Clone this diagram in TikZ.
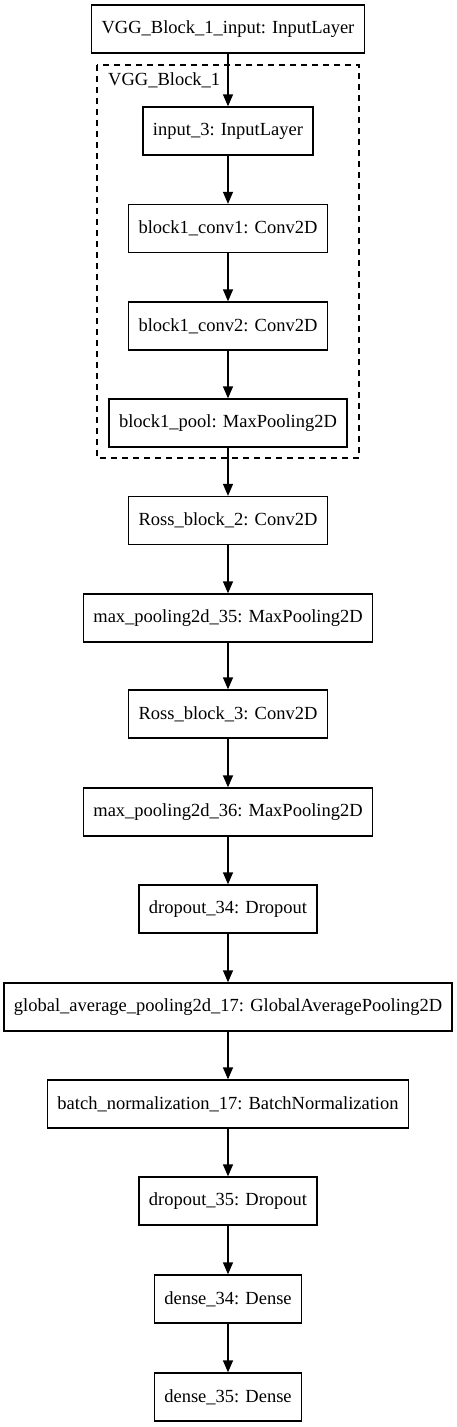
\documentclass[tikz,border=0pt]{standalone}
\usepackage{fontspec}
\setmainfont{Liberation Serif}
\usetikzlibrary{arrows.meta}

\tikzset{
  layer/.style={draw, line width=1.3pt, rectangle, minimum height=48pt, inner xsep=10pt,
    font=\fontsize{18.5}{20}\selectfont},
  edge/.style={draw, line width=1.3pt, -{Triangle[length=12pt,width=10pt]}}
}

\begin{document}
\begin{tikzpicture}[x=1pt,y=-1pt]

% Page frame
\useasboundingbox (0,0) rectangle (456,1427);

% Draw the cluster
\draw[line width=1.3pt, dash pattern=on 6pt off 5pt] (97,65) rectangle (359,458);
\node[anchor=west, inner sep=0pt, font=\fontsize{18.5}{20}\selectfont] (clusterlabel) at (108,80) {VGG\_Block\_1};

% Draw the layers
\node[layer] (vgginput) at (228,29) {VGG\_Block\_1\_input: InputLayer};
\node[layer] (input3) at (228,131) {input\_3: InputLayer};
\node[layer] (conv1) at (228,228.5) {block1\_conv1: Conv2D};
\node[layer] (conv2) at (228,326) {block1\_conv2: Conv2D};
\node[layer] (pool) at (228,423) {block1\_pool: MaxPooling2D};
\node[layer] (ross2) at (228,520.5) {Ross\_block\_2: Conv2D};
\node[layer] (maxpool35) at (228,618) {max\_pooling2d\_35: MaxPooling2D};
\node[layer] (ross3) at (228,714) {Ross\_block\_3: Conv2D};
\node[layer] (maxpool36) at (228,812) {max\_pooling2d\_36: MaxPooling2D};
\node[layer] (drop34) at (228,909) {dropout\_34: Dropout};
\node[layer] (gap) at (228,1007) {global\_average\_pooling2d\_17: GlobalAveragePooling2D};
\node[layer] (batchnorm) at (228,1104) {batch\_normalization\_17: BatchNormalization};
\node[layer] (drop35) at (228,1201) {dropout\_35: Dropout};
\node[layer] (dense34) at (228,1299) {dense\_34: Dense};
\node[layer] (dense35) at (228,1397) {dense\_35: Dense};

% Draw the edges
\draw[edge] (vgginput) -- (input3);
\draw[edge] (input3) -- (conv1);
\draw[edge] (conv1) -- (conv2);
\draw[edge] (conv2) -- (pool);
\draw[edge] (pool) -- (ross2);
\draw[edge] (ross2) -- (maxpool35);
\draw[edge] (maxpool35) -- (ross3);
\draw[edge] (ross3) -- (maxpool36);
\draw[edge] (maxpool36) -- (drop34);
\draw[edge] (drop34) -- (gap);
\draw[edge] (gap) -- (batchnorm);
\draw[edge] (batchnorm) -- (drop35);
\draw[edge] (drop35) -- (dense34);
\draw[edge] (dense34) -- (dense35);

\end{tikzpicture}
\end{document}
